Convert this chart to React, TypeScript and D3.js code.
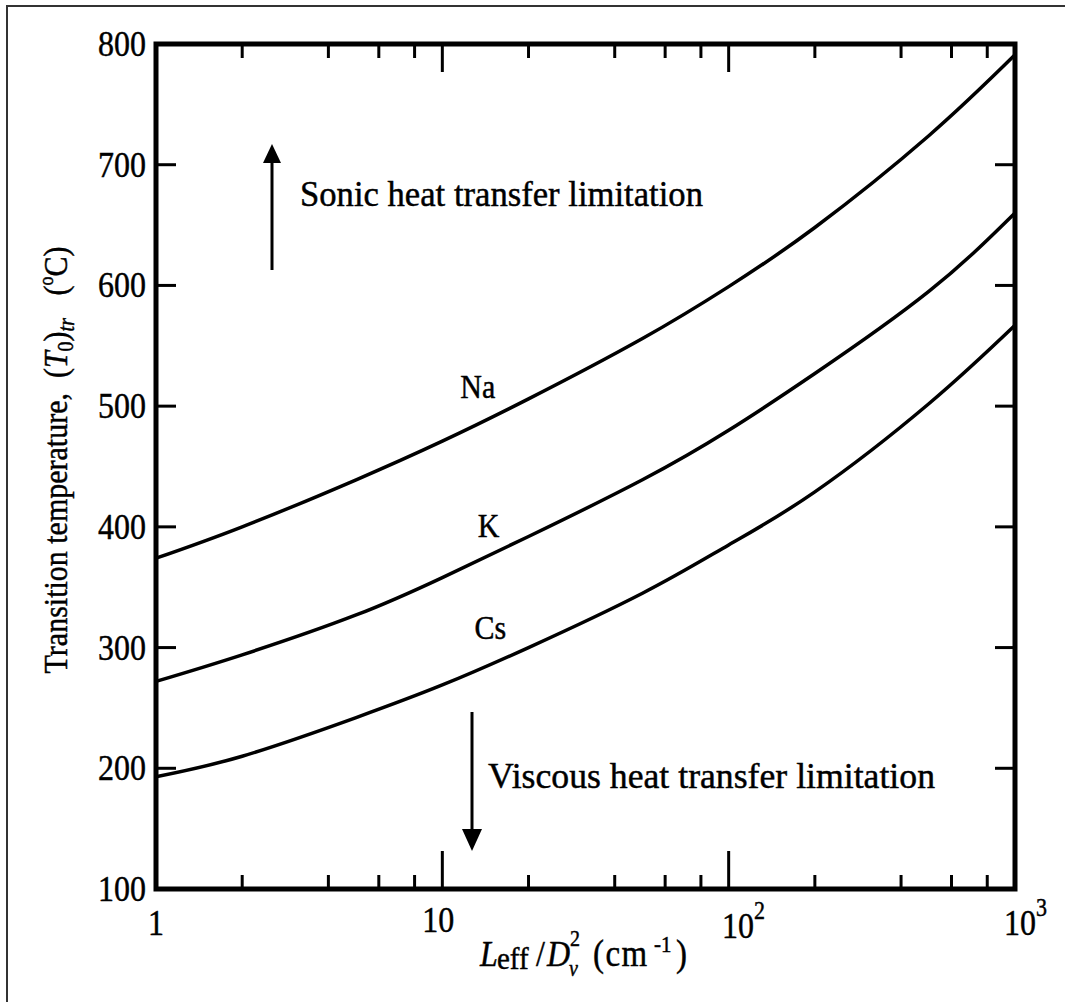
import React from "react";
import * as d3 from "d3";

const xValues = [1, 2, 5, 10, 20, 50, 100, 200, 500, 1000];
const naValues = [374, 400, 439, 471, 506, 556, 599, 648, 724, 791];
const kValues = [272, 294, 327, 358, 392, 439, 480, 527, 595, 660];
const csValues = [193, 210, 242, 269, 300, 345, 385, 429, 502, 567];
const yTicks = [200, 300, 400, 500, 600, 700];
const yTickLabels = [100, 200, 300, 400, 500, 600, 700, 800];
const xMinorTicks = [2, 4, 6, 8, 20, 40, 60, 80, 200, 400, 600, 800];
const xMajorTicks = [10, 100];
const seriesLabels = [
  { name: "Na", x: 13.3, t: 507 },
  { name: "K", x: 14.5, t: 392 },
  { name: "Cs", x: 14.7, t: 307 },
];

const W = 1065;
const H = 1002;
const FONT = "'Liberation Serif', 'Times New Roman', serif";
const SY = 1.12;

function T(props: any) {
  const { x, y, children, rotate, sy, ...rest } = props;
  const s = sy ?? SY;
  const tr = rotate
    ? `translate(${x},${y}) rotate(${rotate}) scale(1,${s})`
    : `translate(${x},${y}) scale(1,${s})`;
  return (
    <g transform={tr}>
      <text x={0} y={0} fill="#000" stroke="#000" strokeWidth={0.4} {...rest}>
        {children}
      </text>
    </g>
  );
}

export default function App() {
  const x = d3.scaleLog().domain([1, 1000]).range([156, 1015]);
  const y = d3.scaleLinear().domain([100, 800]).range([889, 44]);
  const [x0, x1] = x.range();
  const [y0, y1] = y.range();

  const line = d3
    .line<[number, number]>()
    .x((d) => x(d[0]))
    .y((d) => y(d[1]))
    .curve(d3.curveNatural);

  const series = [naValues, kValues, csValues].map((vals) =>
    vals.map((v, i) => [xValues[i], v] as [number, number])
  );

  return (
    <svg
      width={W}
      height={H}
      style={{ position: "absolute", left: 0, top: 0, background: "#fff" }}
      fontFamily={FONT}
    >
      <rect x={0} y={0} width={W} height={H} fill="#fff" />
      {/* outer frame */}
      <path d={`M7,${H} V6 H${W}`} fill="none" stroke="#333" strokeWidth={2} />

      {/* curves */}
      {series.map((s, i) => (
        <path key={i} d={line(s) || ""} fill="none" stroke="#000" strokeWidth={3.5} />
      ))}

      {/* y ticks left & right */}
      {yTicks.map((t) => (
        <g key={t}>
          <line x1={x0} x2={x0 + 20} y1={y(t)} y2={y(t)} stroke="#000" strokeWidth={3} />
          <line x1={x1 - 20} x2={x1} y1={y(t)} y2={y(t)} stroke="#000" strokeWidth={3} />
        </g>
      ))}
      {/* x ticks bottom & top */}
      {xMinorTicks.map((t) => (
        <g key={t}>
          <line x1={x(t)} x2={x(t)} y1={y0} y2={y0 - 14} stroke="#000" strokeWidth={3} />
          <line x1={x(t)} x2={x(t)} y1={y1} y2={y1 + 14} stroke="#000" strokeWidth={3} />
        </g>
      ))}
      {xMajorTicks.map((t) => (
        <g key={t}>
          <line x1={x(t)} x2={x(t)} y1={y0} y2={y0 - 38} stroke="#000" strokeWidth={3} />
          <line x1={x(t)} x2={x(t)} y1={y1} y2={y1 + 28} stroke="#000" strokeWidth={3} />
        </g>
      ))}

      {/* axes box */}
      <rect
        x={x0}
        y={y1}
        width={x1 - x0}
        height={y0 - y1}
        fill="none"
        stroke="#000"
        strokeWidth={5}
      />

      {/* y tick labels */}
      {yTickLabels.map((t) => (
        <T key={t} x={146} y={y(t) + 12} textAnchor="end" fontSize={32}>
          {t}
        </T>
      ))}

      {/* x tick labels */}
      <T x={x(1)} y={935} textAnchor="middle" fontSize={32}>1</T>
      <T x={x(10) - 4} y={932} textAnchor="middle" fontSize={32}>10</T>
      <T x={722} y={938} fontSize={32}>
        10
        <tspan dy={-17} fontSize={22}>2</tspan>
      </T>
      <T x={1004} y={935} fontSize={32}>
        10
        <tspan dy={-17} fontSize={22}>3</tspan>
      </T>

      {/* x axis label */}
      <T x={480} y={966} fontSize={32} fontStyle="italic">L</T>
      <T x={497} y={969} fontSize={29}>eff</T>
      <T x={536} y={966} fontSize={32}>/</T>
      <T x={547} y={966} fontSize={32} fontStyle="italic">D</T>
      <T x={570} y={946} fontSize={20}>2</T>
      <T x={569} y={976} fontSize={20} fontStyle="italic">v</T>
      <T x={593} y={966} fontSize={33} letterSpacing={1.5}>(cm</T>
      <T x={654} y={952} fontSize={21}>-1</T>
      <T x={676} y={966} fontSize={33}>)</T>

      {/* y axis label */}
      <T x={67} y={460} rotate={-90} sy={1.15} textAnchor="middle" fontSize={30}>
        Transition temperature,{"\u00a0\u00a0("}
        <tspan fontStyle="italic">T</tspan>
        <tspan dy={5} fontSize={20}>0</tspan>
        <tspan dy={-5}>)</tspan>
        <tspan dy={6} fontSize={20} fontStyle="italic">tr</tspan>
        <tspan dy={-6}>{"\u00a0\u00a0\u00a0("}</tspan>
        <tspan dy={-12} fontSize={18}>o</tspan>
        <tspan dy={12}>C)</tspan>
      </T>

      {/* series labels */}
      {seriesLabels.map((s) => (
        <T key={s.name} x={x(s.x)} y={y(s.t)} textAnchor="middle" fontSize={30}>
          {s.name}
        </T>
      ))}

      {/* arrows and annotations */}
      <line x1={272} x2={272} y1={270} y2={160} stroke="#000" strokeWidth={3} />
      <path d="M272,144 L263,163 L281,163 Z" fill="#000" />
      <T x={300} y={206} fontSize={32} textLength={403} lengthAdjust="spacingAndGlyphs">
        Sonic heat transfer limitation
      </T>

      <line x1={472} x2={472} y1={712} y2={832} stroke="#000" strokeWidth={3} />
      <path d="M472,851 L462,829 L482,829 Z" fill="#000" />
      <T x={488} y={788} fontSize={32} textLength={447} lengthAdjust="spacingAndGlyphs">
        Viscous heat transfer limitation
      </T>
    </svg>
  );
}
